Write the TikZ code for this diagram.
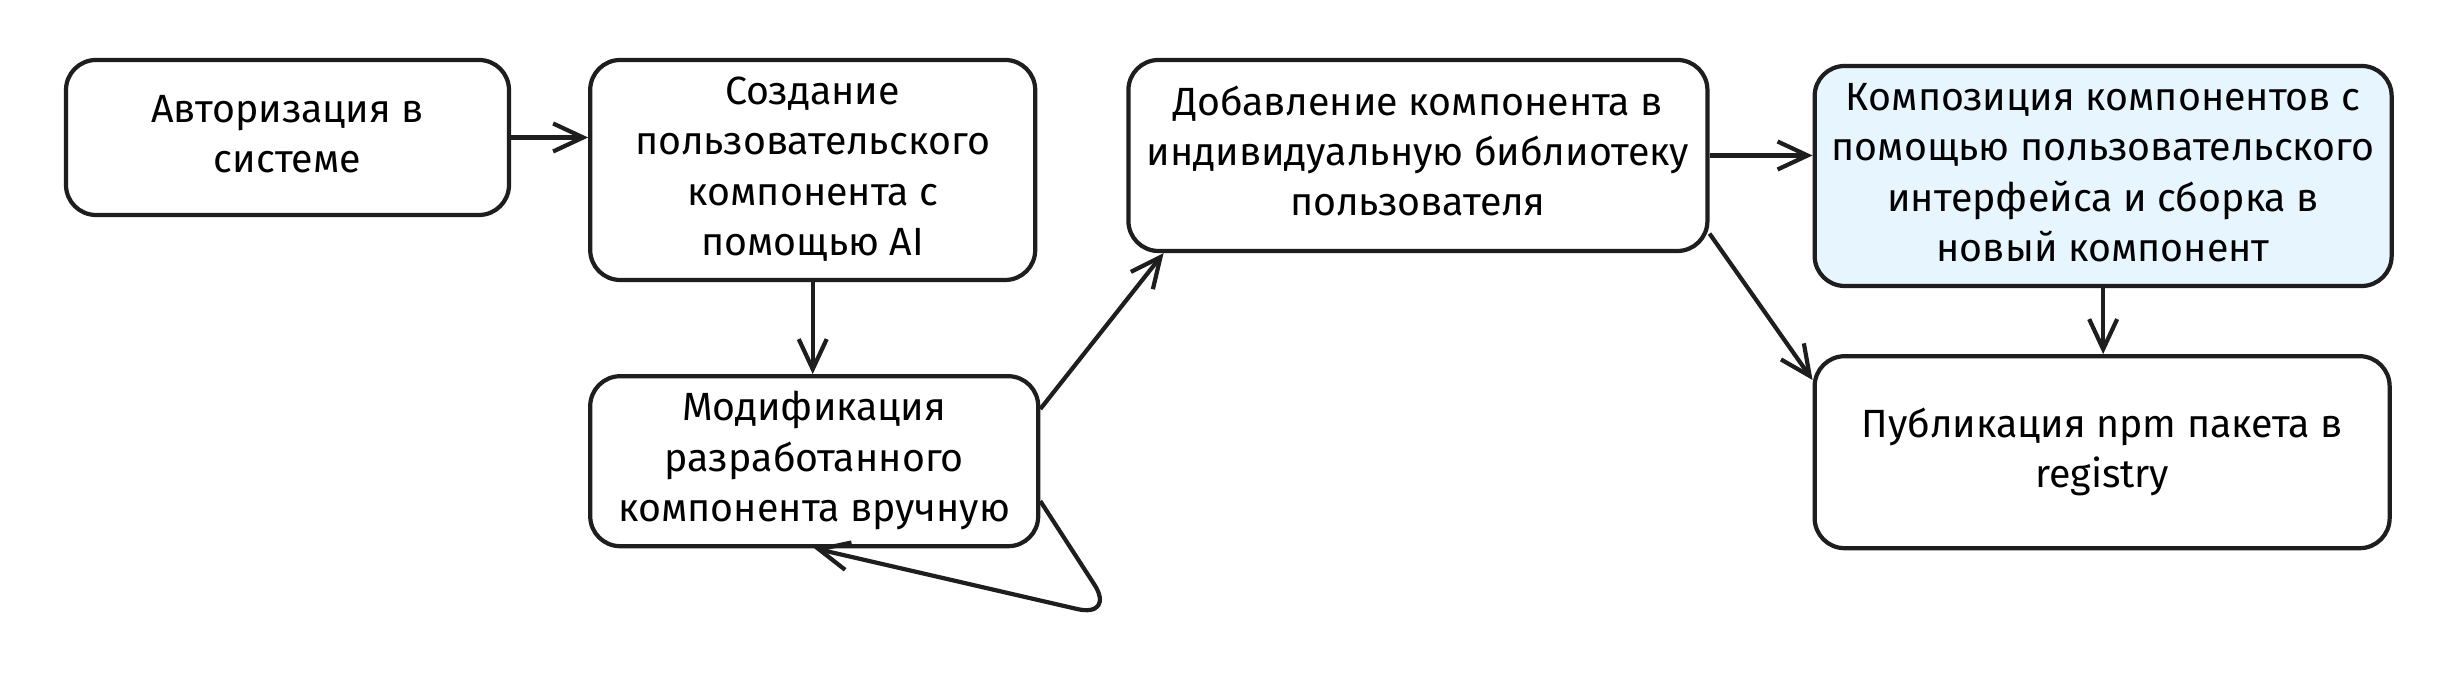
\documentclass[tikz,border=0pt]{standalone}
\usepackage{fontspec}
\newfontfamily\handfont{Fira Sans}
\usetikzlibrary{positioning,arrows.meta}

\begin{document}
\begin{tikzpicture}

      \definecolor{stroke}{HTML}{1E1E1E}
      \definecolor{lightblue}{HTML}{E7F5FF}

      \tikzstyle{block}     = [rectangle, rounded corners=0.3cm, draw=stroke, line width=1.2pt, fill=white, inner sep=0pt, font=\handfont\fontsize{11.2}{14.3}\selectfont]
      \tikzstyle{connector} = [line width=1.2pt, draw=stroke, -{Straight Barb[length=3mm, width=2.8mm]}]

      \newcommand{\colsep}[0]{0.77cm}
      \newcommand{\rowsep}[0]{0.92cm}
      \newcommand{\nodename}[1]{\begin{tabular}{@{}c@{}}#1\end{tabular}}

      \useasboundingbox (0,0) rectangle (24.64,6.82);

      \node [block, minimum width=4.43cm, minimum height=1.55cm]                                                   (auth)    at (2.875,5.445) {\nodename{Авторизация в\\системе}};
      \node [block, minimum width=4.45cm, minimum height=2.20cm, right = \colsep of auth.north east, anchor = north west]   (create)  {\nodename{Создание\\пользовательского\\компонента с\\помощью AI}};
      \node [block, minimum width=4.48cm, minimum height=1.70cm, below = \rowsep of create.south west, anchor = north west] (modify)  {\nodename{Модификация\\разработанного\\компонента вручную}};
      \node [block, minimum width=5.79cm, minimum height=1.91cm, right = 0.89cm of create.north east, anchor = north west]  (add)     {\nodename{Добавление компонента в\\индивидуальную библиотеку\\пользователя}};
      \node [block, minimum width=5.77cm, minimum height=2.20cm, fill = lightblue, right = 1.03cm of add.north east, anchor = north west, yshift=-0.06cm] (compose) {\nodename{Композиция компонентов с\\помощью пользовательского\\интерфейса и сборка в\\новый компонент}};
      \node [block, minimum width=5.75cm, minimum height=1.92cm, below = 0.66cm of compose.south west, anchor = north west] (public)  {\nodename{Публикация npm пакета в\\registry}};

      \coordinate (loopturn) at (11.16,0.64);

      \draw [connector] (auth.east)     -- (auth.east -| create.west);
      \draw [connector] (create.south)  -- (create.south |- modify.north);
      \draw [connector] (modify.13)     -- (add.201);
      \draw [connector, rounded corners=0.4cm] (modify.350) -- (loopturn) -- (modify.south);
      \draw [connector] (add.east)      -- (add.east -| compose.west);
      \draw [connector] (add.-15)       -- (public.166);
      \draw [connector] (compose.south) -- (compose.south |- public.north);

    \end{tikzpicture}
\end{document}
